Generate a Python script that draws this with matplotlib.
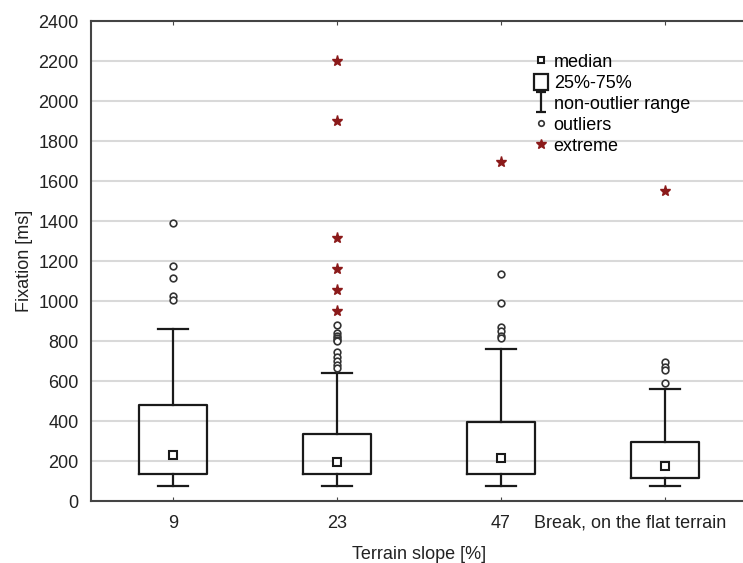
import matplotlib
matplotlib.use("Agg")
import matplotlib.pyplot as plt
from matplotlib.lines import Line2D
from matplotlib.patches import Patch
from matplotlib.path import Path
from matplotlib.transforms import ScaledTranslation

plt.rcParams["font.family"] = ["Liberation Sans", "DejaVu Sans"]

# data (ms)
categories = ["9", "23", "47", "Break, on the flat terrain"]
q1 = [135, 135, 135, 115]
q3 = [480, 335, 395, 295]
medians = [230, 195, 215, 175]
whisk_lo = [75, 75, 75, 75]
whisk_hi = [860, 640, 760, 560]
outliers = [
    [1390, 1175, 1115, 1025, 1005],
    [880, 840, 825, 815, 805, 800, 745, 720, 700, 680, 665],
    [1135, 990, 870, 850, 825, 815],
    [695, 670, 655, 590],
]
extremes = [
    [],
    [2200, 1900, 1315, 1160, 1055, 950],
    [1695],
    [1550],
]

star_col = "#8b1a1a"
line_col = "#1a1a1a"

fig = plt.figure(figsize=(7.43, 5.63), dpi=100)
ax = fig.add_axes([91 / 743, 62 / 563, 656 / 743, 480 / 563])

pos = list(range(len(categories)))
stats = []
for i in pos:
    stats.append(dict(med=medians[i], q1=q1[i], q3=q3[i],
                      whislo=whisk_lo[i], whishi=whisk_hi[i], fliers=[]))

ax.bxp(stats, positions=pos, widths=0.41, capwidths=0.18, showfliers=False,
       boxprops=dict(color=line_col, linewidth=1.6),
       whiskerprops=dict(color=line_col, linewidth=1.6),
       capprops=dict(color=line_col, linewidth=1.6),
       medianprops=dict(linewidth=0), zorder=3)

ax.plot(pos, medians, ls="none", marker="s", ms=5.5, mfc="white",
        mec=line_col, mew=1.5, zorder=4)

for i in pos:
    if outliers[i]:
        ax.plot([i] * len(outliers[i]), outliers[i], ls="none", marker="o",
                ms=4.8, mfc="white", mec="#333333", mew=1.2, zorder=4)
    if extremes[i]:
        ax.plot([i] * len(extremes[i]), extremes[i], ls="none", marker="*",
                ms=8, color=star_col, zorder=4)

ax.set_xlim(-0.5, 3.5)
ax.set_ylim(0, 2400)
ax.set_yticks(range(0, 2401, 200))
ax.set_xticks(pos)
ax.set_xticklabels(categories)
ax.yaxis.grid(True, color="#d9d9d9", linewidth=1.5)
ax.set_axisbelow(True)

for s in ["top", "left", "bottom"]:
    ax.spines[s].set_color("#444444")
    ax.spines[s].set_linewidth(1.5)
ax.spines["right"].set_visible(False)

ax.tick_params(axis="y", length=0, pad=9, labelsize=13, labelcolor="#222222")
ax.tick_params(axis="x", direction="in", length=3, top=True, pad=10,
               labelsize=13, labelcolor="#222222", color="#444444")

# last tick label sits a bit left of its tick in the original
lbl = ax.get_xticklabels()[-1]
lbl.set_transform(lbl.get_transform() + ScaledTranslation(-0.35, 0, fig.dpi_scale_trans))

ax.set_ylabel("Fixation [ms]", fontsize=13, color="#222222", labelpad=4)
ax.set_xlabel("Terrain slope [%]", fontsize=13, color="#222222", labelpad=10)

# legend
ibeam = Path([(-0.5, -1), (0.5, -1), (0, -1), (0, 1), (-0.5, 1), (0.5, 1)],
             [Path.MOVETO, Path.LINETO, Path.MOVETO, Path.LINETO, Path.MOVETO, Path.LINETO])
handles = [
    Line2D([], [], ls="none", marker="s", ms=5, mfc="white", mec=line_col, mew=1.5),
    Patch(fc="white", ec=line_col, lw=1.6),
    Line2D([], [], ls="none", marker=ibeam, ms=15, mfc="none", mec=line_col, mew=1.6),
    Line2D([], [], ls="none", marker="o", ms=4, mfc="white", mec="#333333", mew=1.2),
    Line2D([], [], ls="none", marker="*", ms=7, color=star_col),
]
labels = ["median", "25%-75%", "non-outlier range", "outliers", "extreme"]
ax.legend(handles, labels, loc="upper left", bbox_to_anchor=(0.675, 0.934),
          frameon=False, fontsize=13, handlelength=0.8, handleheight=1.0,
          handletextpad=0.3, labelspacing=0.15, borderpad=0, borderaxespad=0)

fig.savefig("out.png", dpi=100)
